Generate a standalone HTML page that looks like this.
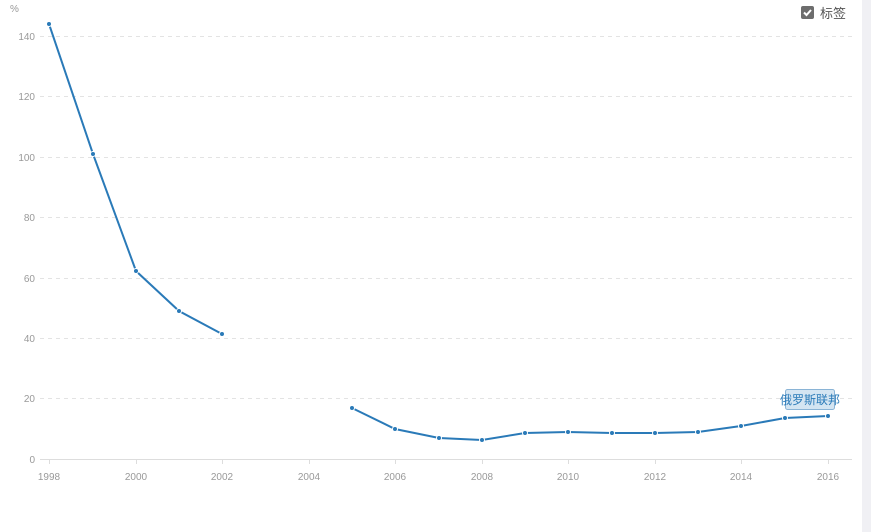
<!DOCTYPE html>
<html><head><meta charset="utf-8"><style>
body{margin:0;width:871px;height:532px;background:#fff;overflow:hidden;font-family:"Liberation Sans","Noto Sans CJK SC",sans-serif}
</style></head><body>
<svg width="871" height="532" xmlns="http://www.w3.org/2000/svg" style="position:absolute;left:0;top:0">
<rect x="862" y="0" width="9" height="532" fill="#f0f0f4"/>
<g stroke="#e3e3e3" stroke-dasharray="4,4" stroke-width="1">
<line x1="40" x2="852" y1="36.5" y2="36.5"/>
<line x1="40" x2="852" y1="96.5" y2="96.5"/>
<line x1="40" x2="852" y1="157.5" y2="157.5"/>
<line x1="40" x2="852" y1="217.5" y2="217.5"/>
<line x1="40" x2="852" y1="278.5" y2="278.5"/>
<line x1="40" x2="852" y1="338.5" y2="338.5"/>
<line x1="40" x2="852" y1="398.5" y2="398.5"/>
</g>
<line x1="40" x2="852" y1="459.5" y2="459.5" stroke="#ddd"/>
<g stroke="#ddd">
<line x1="49.5" x2="49.5" y1="459" y2="464"/><line x1="136.5" x2="136.5" y1="459" y2="464"/><line x1="222.5" x2="222.5" y1="459" y2="464"/><line x1="309.5" x2="309.5" y1="459" y2="464"/><line x1="395.5" x2="395.5" y1="459" y2="464"/><line x1="482.5" x2="482.5" y1="459" y2="464"/><line x1="568.5" x2="568.5" y1="459" y2="464"/><line x1="655.5" x2="655.5" y1="459" y2="464"/><line x1="741.5" x2="741.5" y1="459" y2="464"/><line x1="828.5" x2="828.5" y1="459" y2="464"/>
</g>
<g font-size="10" fill="#999" text-anchor="end">
<text x="35" y="40">140</text><text x="35" y="100">120</text><text x="35" y="161">100</text><text x="35" y="221">80</text><text x="35" y="282">60</text><text x="35" y="342">40</text><text x="35" y="402">20</text><text x="35" y="463">0</text>
</g>
<text x="10" y="12" font-size="10" fill="#999">%</text>
<g font-size="10" fill="#999" text-anchor="middle">
<text x="49" y="480">1998</text><text x="136" y="480">2000</text><text x="222" y="480">2002</text><text x="309" y="480">2004</text><text x="395" y="480">2006</text><text x="482" y="480">2008</text><text x="568" y="480">2010</text><text x="655" y="480">2012</text><text x="741" y="480">2014</text><text x="828" y="480">2016</text>
</g>
<g fill="none" stroke="#2a7ab8" stroke-width="2">
<polyline points="49,24 93,154 136,271 179,311 222,334"/>
<polyline points="352,408 395,429 439,438 482,440 525,433 568,432 612,433 655,433 698,432 741,426 785,418 828,416"/>
</g>
<g fill="#2a7ab8" stroke="#fff" stroke-width="1">
<circle cx="49" cy="24" r="2.5"/><circle cx="93" cy="154" r="2.5"/><circle cx="136" cy="271" r="2.5"/><circle cx="179" cy="311" r="2.5"/><circle cx="222" cy="334" r="2.5"/>
<circle cx="352" cy="408" r="2.5"/><circle cx="395" cy="429" r="2.5"/><circle cx="439" cy="438" r="2.5"/><circle cx="482" cy="440" r="2.5"/><circle cx="525" cy="433" r="2.5"/><circle cx="568" cy="432" r="2.5"/><circle cx="612" cy="433" r="2.5"/><circle cx="655" cy="433" r="2.5"/><circle cx="698" cy="432" r="2.5"/><circle cx="741" cy="426" r="2.5"/><circle cx="785" cy="418" r="2.5"/><circle cx="828" cy="416" r="2.5"/>
</g>
<rect x="785.5" y="389.5" width="49" height="20" rx="2" fill="#d4e5f2" stroke="#8ab4d6"/>
<text x="810" y="404" font-size="12" fill="#2a7ab8" text-anchor="middle">俄罗斯联邦</text>
<rect x="801" y="6" width="13" height="13" rx="2" fill="#6d6d6d"/>
<path d="M804 12.5 l2.5 2.5 l4.5 -5" stroke="#fff" stroke-width="2" fill="none"/>
<text x="820" y="18" font-size="13" fill="#555">标签</text>
</svg>
</body></html>
